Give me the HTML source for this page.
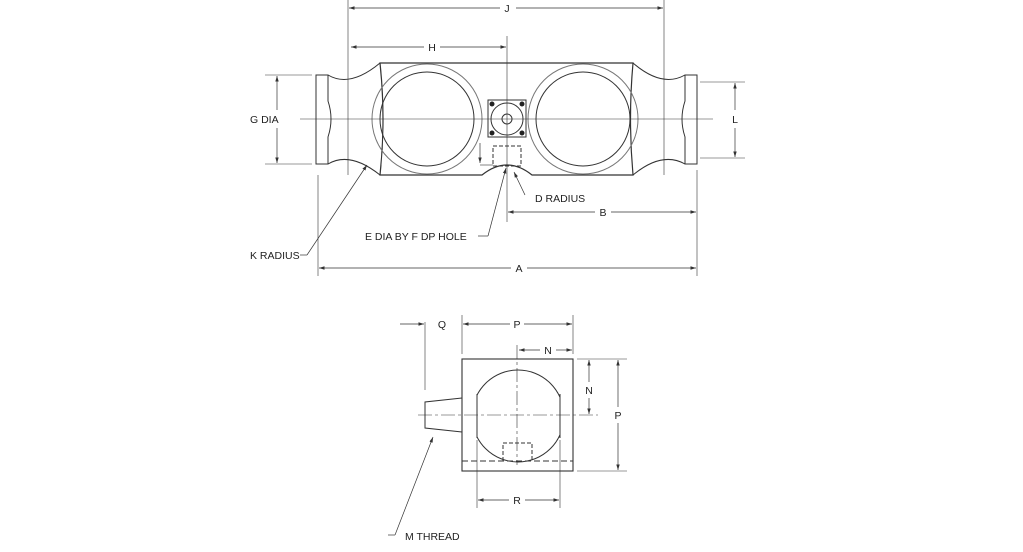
<!DOCTYPE html>
<html><head><meta charset="utf-8"><style>
html,body{margin:0;padding:0;background:#fff;}
svg{display:block;}
text{font-family:"Liberation Sans",sans-serif;font-size:10.5px;fill:#222;}
</style></head><body>
<svg width="1023" height="552" viewBox="0 0 1023 552" xmlns="http://www.w3.org/2000/svg">
<defs>
<marker id="a" markerWidth="8" markerHeight="6" refX="8" refY="3" orient="auto"><path d="M0,0.5 L8,3 L0,5.5" fill="#333"/></marker>
</defs>
<g stroke="#333" fill="none" stroke-width="1">
<path d="M380,63 L633,63 Q628,119 633,175 L532,175 Q507,155 482,175 L380,175 Q386,119 380,63 Z" stroke-width="1.2"/>
<path d="M328,75 Q350,88 380,63 M328,164 Q350,151 380,175"/>
<path d="M316,75 L328,75 L328,101 Q334,119 328,137 L328,164 L316,164 Z"/>
<path d="M633,63 Q662,88 685,75 M633,175 Q662,151 685,164"/>
<path d="M697,75 L685,75 L685,101 Q679,119 685,137 L685,164 L697,164 Z"/>
<circle cx="427" cy="119" r="55" stroke="#777"/>
<circle cx="427" cy="119" r="47"/>
<circle cx="583" cy="119" r="55" stroke="#777"/>
<circle cx="583" cy="119" r="47"/>
<rect x="488" y="100" width="38" height="37"/>
<circle cx="507" cy="119" r="16"/>
<circle cx="507" cy="119" r="5"/>
<g fill="#222" stroke="none">
<circle cx="492" cy="104" r="2.5"/><circle cx="522" cy="104" r="2.5"/>
<circle cx="492" cy="133" r="2.5"/><circle cx="522" cy="133" r="2.5"/>
</g>
<rect x="493" y="146" width="28" height="20" stroke-dasharray="4,2"/>
<line x1="507" y1="36" x2="507" y2="222" stroke-width="0.6"/>
<line x1="300" y1="119" x2="713" y2="119" stroke-width="0.6"/>
<g stroke-width="0.6">
<line x1="348" y1="0" x2="348" y2="175"/>
<line x1="664" y1="0" x2="664" y2="175"/>
<line x1="318" y1="175" x2="318" y2="276"/>
<line x1="697" y1="170" x2="697" y2="276"/>
<line x1="265" y1="75" x2="312" y2="75"/>
<line x1="265" y1="164" x2="312" y2="164"/>
<line x1="700" y1="82" x2="745" y2="82"/>
<line x1="700" y1="158" x2="745" y2="158"/>
<line x1="480" y1="165" x2="493" y2="165"/>
</g>
<g stroke-width="0.7" marker-end="url(#a)">
<line x1="500" y1="8" x2="349" y2="8"/><line x1="516" y1="8" x2="663" y2="8"/>
<line x1="424" y1="47" x2="351" y2="47"/><line x1="440" y1="47" x2="506" y2="47"/>
<line x1="277" y1="110" x2="277" y2="76"/><line x1="277" y1="128" x2="277" y2="163"/>
<line x1="735" y1="110" x2="735" y2="83"/><line x1="735" y1="128" x2="735" y2="157"/>
<line x1="595" y1="212" x2="508" y2="212"/><line x1="611" y1="212" x2="696" y2="212"/>
<line x1="511" y1="268" x2="319" y2="268"/><line x1="527" y1="268" x2="696" y2="268"/>
<line x1="480" y1="143" x2="480" y2="163"/>
<line x1="525" y1="195" x2="514" y2="172"/>
<line x1="488" y1="236" x2="506" y2="168"/>
<line x1="307" y1="255" x2="367" y2="165"/>
</g>
<line x1="478" y1="236" x2="488" y2="236" stroke-width="0.7"/>
<line x1="300" y1="255" x2="307" y2="255" stroke-width="0.7"/>

<rect x="462" y="359" width="111" height="112" stroke-width="1.1"/>
<clipPath id="c"><rect x="477" y="360" width="83" height="110"/></clipPath>
<circle cx="518" cy="416" r="46" clip-path="url(#c)"/>
<line x1="477" y1="394" x2="477" y2="438"/><line x1="560" y1="394" x2="560" y2="438"/>
<line x1="462" y1="461" x2="573" y2="461" stroke-dasharray="6,3"/>
<path d="M503,461 L503,443 L532,443 L532,461" stroke-dasharray="4,2"/>
<line x1="517" y1="345" x2="517" y2="465" stroke-width="0.6" stroke-dasharray="14,3,3,3"/>
<line x1="418" y1="415" x2="598" y2="415" stroke-width="0.6" stroke-dasharray="14,3,3,3"/>
<path d="M462,398 L425,402 L425,428 L462,432"/>
<g stroke-width="0.6">
<line x1="425" y1="322" x2="425" y2="390"/>
<line x1="462" y1="315" x2="462" y2="354"/>
<line x1="573" y1="315" x2="573" y2="354"/>
<line x1="577" y1="359" x2="627" y2="359"/>
<line x1="577" y1="471" x2="627" y2="471"/>
<line x1="477" y1="440" x2="477" y2="508"/>
<line x1="560" y1="440" x2="560" y2="508"/>
</g>
<g stroke-width="0.7" marker-end="url(#a)">
<line x1="400" y1="324" x2="424" y2="324"/>
<line x1="510" y1="324" x2="463" y2="324"/><line x1="524" y1="324" x2="572" y2="324"/>
<line x1="540" y1="350" x2="519" y2="350"/><line x1="556" y1="350" x2="572" y2="350"/>
<line x1="589" y1="382" x2="589" y2="360"/><line x1="589" y1="398" x2="589" y2="414"/>
<line x1="618" y1="407" x2="618" y2="360"/><line x1="618" y1="423" x2="618" y2="470"/>
<line x1="509" y1="500" x2="478" y2="500"/><line x1="525" y1="500" x2="559" y2="500"/>
<line x1="395" y1="535" x2="433" y2="437"/>
</g>
<line x1="388" y1="535" x2="395" y2="535" stroke-width="0.7"/>
</g>
<text x="507" y="12" text-anchor="middle">J</text>
<text x="432" y="51" text-anchor="middle">H</text>
<text x="250" y="123">G DIA</text>
<text x="735" y="123" text-anchor="middle">L</text>
<text x="535" y="202">D RADIUS</text>
<text x="603" y="216" text-anchor="middle">B</text>
<text x="365" y="240">E DIA BY F DP HOLE</text>
<text x="250" y="259">K RADIUS</text>
<text x="519" y="272" text-anchor="middle">A</text>
<text x="442" y="328" text-anchor="middle">Q</text>
<text x="517" y="328" text-anchor="middle">P</text>
<text x="548" y="354" text-anchor="middle">N</text>
<text x="589" y="394" text-anchor="middle">N</text>
<text x="618" y="419" text-anchor="middle">P</text>
<text x="517" y="504" text-anchor="middle">R</text>
<text x="405" y="540">M THREAD</text>
</svg>
</body></html>
